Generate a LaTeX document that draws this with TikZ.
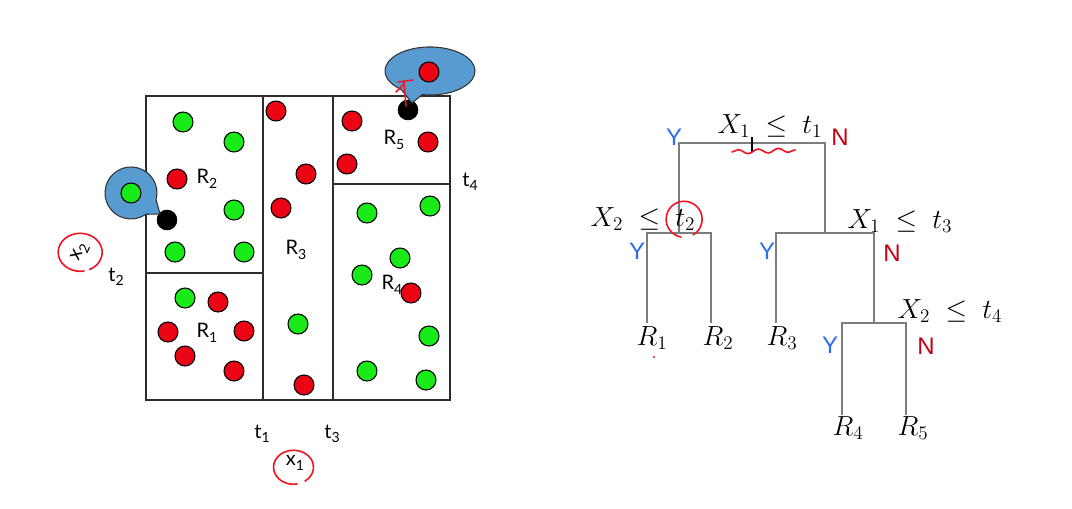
\documentclass[tikz,border=0pt]{standalone}
\usepackage{fontspec}
\setsansfont{Lato}
\newfontfamily\ynfont{Liberation Sans}
\usetikzlibrary{decorations.pathmorphing}
\definecolor{dotgreen}{RGB}{25,235,25}
\definecolor{dotred}{RGB}{235,5,20}
\definecolor{callblue}{RGB}{88,155,208}
\definecolor{inkred}{RGB}{240,20,35}
\definecolor{yesblue}{RGB}{45,110,230}
\definecolor{nored}{RGB}{195,0,20}
\definecolor{treegray}{RGB}{125,125,125}
\definecolor{boxline}{RGB}{45,45,45}
\newcommand\lsub[1]{\raisebox{-0.45ex}{\fontsize{10.5}{11}\selectfont #1}}
\begin{document}
\begin{tikzpicture}[x=0.75pt,y=-0.75pt,
  gdot/.style={circle,draw=black,line width=0.8pt,fill=dotgreen,minimum size=15pt,inner sep=0pt},
  rdot/.style={circle,draw=black,line width=0.8pt,fill=dotred,minimum size=15pt,inner sep=0pt},
  bdot/.style={circle,draw=black,fill=black,minimum size=15pt,inner sep=0pt},
  boxl/.style={draw=boxline,line width=1.1pt},
  lbl/.style={font=\sffamily\fontsize{15}{17}\selectfont,inner sep=0pt},
  callout/.style={fill=callblue,draw=black!80,line width=0.8pt},
  ink/.style={draw=inkred,line width=1.2pt,line cap=round},
  tline/.style={draw=treegray,line width=1.1pt},
  mlbl/.style={font=\fontsize{19.5}{22}\selectfont,inner sep=0pt,anchor=base},
  yes/.style={font=\ynfont\fontsize{18}{20}\selectfont,text=yesblue,inner sep=0pt},
  no/.style={font=\ynfont\fontsize{18}{20}\selectfont,text=nored,inner sep=0pt}
]
\useasboundingbox (0,0) rectangle (1072,508);
\fill[white] (0,0) rectangle (1072,508);

% ---------------- left panel: partition ----------------
\draw[boxl] (146,96) rectangle (450,400);
\draw[boxl] (263,96) -- (263,400);
\draw[boxl] (333,96) -- (333,400);
\draw[boxl] (146,273) -- (263,273);
\draw[boxl] (333,184) -- (450,184);

% labels (drawn before the dots)
\node[lbl] (lR2) at (207,179) {R\lsub{2}};
\node[lbl] (lR5) at (394,140) {R\lsub{5}};
\node[lbl] (lR3) at (296,250) {R\lsub{3}};
\node[lbl] (lR1) at (207,333) {R\lsub{1}};
\node[lbl] (lR4) at (392,285) {R\lsub{4}};
\node[lbl] (lt4) at (470,182) {t\lsub{4}};
\node[lbl] (lt2) at (116,277) {t\lsub{2}};
\node[lbl] (lt1) at (262,434) {t\lsub{1}};
\node[lbl] (lt3) at (332,434) {t\lsub{3}};
\node[lbl] (lx1) at (295,463) {x\lsub{1}};
\node[lbl,rotate=65] (lx2) at (80,252) {x\lsub{2}};

% R2 region
\node[gdot] (d1) at (183,122) {};
\node[gdot] (d2) at (234,142) {};
\node[rdot] (d3) at (177,179) {};
\node[gdot] (d4) at (234,210) {};
\node[gdot] (d5) at (175,252) {};
\node[gdot] (d6) at (244,252) {};
% R1 region
\node[gdot] (d7) at (185,298) {};
\node[rdot] (d8) at (218,302) {};
\node[rdot] (d9) at (168,332) {};
\node[rdot] (d10) at (244,331) {};
\node[rdot] (d11) at (185,356) {};
\node[rdot] (d12) at (234,371) {};
% R3 region
\node[rdot] (d13) at (276,111) {};
\node[rdot] (d14) at (306,174) {};
\node[rdot] (d15) at (281,208) {};
\node[gdot] (d16) at (298,324) {};
\node[rdot] (d17) at (304,385) {};
% R5 region
\node[rdot] (d18) at (352,121) {};
\node[rdot] (d19) at (428,142) {};
\node[rdot] (d20) at (347,164) {};
% R4 region
\node[gdot] (d21) at (430,206) {};
\node[gdot] (d22) at (367,213) {};
\node[gdot] (d23) at (400,258) {};
\node[gdot] (d24) at (362,275) {};
\node[rdot] (d25) at (411,293) {};
\node[gdot] (d26) at (429,336) {};
\node[gdot] (d27) at (367,371) {};
\node[gdot] (d28) at (426,380) {};

% black query points
\node[bdot] (q1) at (167,220) {};
\node[bdot] (q2) at (408,110) {};

% callouts
\coordinate (tipL) at (160,214);
\coordinate (tipT) at (412,103);
\path[callout] (156.1,199.7) arc[start angle=15,end angle=-305,radius=26] -- (tipL) -- cycle;
\path[callout] (422.2,94.6) arc[start angle=100,end angle=-230,x radius=45,y radius=24] -- (tipT) -- cycle;
\node[gdot] (c1) at (131,193) {};
\node[rdot] (c2) at (429,72) {};

% red ink annotations (left)
\draw[ink] (406,106) -- (404,82);
\draw[ink] (398,82) -- (413,80);
\draw[ink] (396,92) -- (404,84);
\draw[ink] (lx2.center) ++(4,19) arc[start angle=80,end angle=425,x radius=22,y radius=19];
\draw[ink] (lx1.center) ++(2,21) arc[start angle=80,end angle=415,x radius=20,y radius=17];

% ---------------- right panel: tree ----------------
\coordinate (n1L) at (679,143);
\coordinate (n1R) at (825,143);
\coordinate (n2) at (679,233);
\coordinate (n2L) at (647,233);
\coordinate (n2R) at (711,233);
\coordinate (n3) at (825,233);
\coordinate (n3L) at (776,233);
\coordinate (n3R) at (874,233);
\coordinate (n4) at (874,323);
\coordinate (n4L) at (842,323);
\coordinate (n4R) at (906,323);
\coordinate (e1) at (647,323);
\coordinate (e2) at (711,323);
\coordinate (e3) at (776,323);
\coordinate (e4) at (842,415);
\coordinate (e5) at (906,415);

\draw[tline] (n2) -- (n1L) -- (n1R) -- (n3);
\draw[tline] (e1) -- (n2L) -- (n2R) -- (e2);
\draw[tline] (e3) -- (n3L) -- (n3R) -- (n4);
\draw[tline] (e4) -- (n4L) -- (n4R) -- (e5);

\node[mlbl] (s1) at (770,133) {$X_1\;\leq\;t_1$};
\node[mlbl] (s2) at (643,226) {$X_2\;\leq\;t_2$};
\node[mlbl] (s3) at (900,228) {$X_1\;\leq\;t_3$};
\node[mlbl] (s4) at (950,318) {$X_2\;\leq\;t_4$};

\node[mlbl] (R1) at (652,345) {$R_1$};
\node[mlbl] (R2) at (718,345) {$R_2$};
\node[mlbl] (R3) at (782,345) {$R_3$};
\node[mlbl] (R4) at (848,435) {$R_4$};
\node[mlbl] (R5) at (913,435) {$R_5$};

\node[yes] (y1) at (674,137) {Y};
\node[no]  (no1) at (840,137) {N};
\node[yes] (y2) at (637,251) {Y};
\node[yes] (y3) at (767,251) {Y};
\node[no]  (no3) at (892,253) {N};
\node[yes] (y4) at (830,345) {Y};
\node[no]  (no4) at (926,346) {N};

% ink annotations (right)
\draw[black,line width=0.9pt] (752,137) -- (752,152);
\draw[ink,decorate,decoration={snake,amplitude=1.6pt,segment length=15pt}] (732,152) -- (795,150);
\draw[ink] (684,219) ++(-3,18) arc[start angle=100,end angle=420,radius=18];
\fill[inkred] (654,357) circle (1.2);
\end{tikzpicture}
\end{document}
